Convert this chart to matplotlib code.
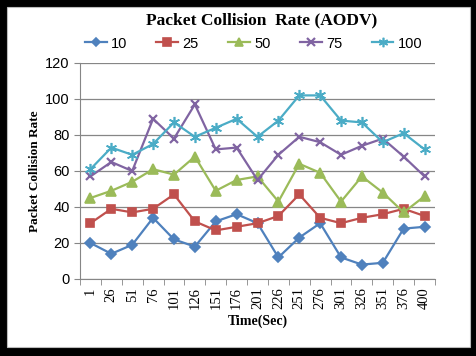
import matplotlib
matplotlib.use("Agg")
import matplotlib.pyplot as plt
from matplotlib.patches import Rectangle
import numpy as np

# time labels (seconds)
times = ["1", "26", "51", "76", "101", "126", "151", "176", "201",
         "226", "251", "276", "301", "326", "351", "376", "400"]

# packet collision rate per node count
rate_10 = [20, 14, 19, 34, 22, 18, 32, 36, 31, 12, 23, 31, 12, 8, 9, 28, 29]
rate_25 = [31, 39, 37, 39, 47, 32, 27, 29, 31, 35, 47, 34, 31, 34, 36, 39, 35]
rate_50 = [45, 49, 54, 61, 58, 68, 49, 55, 57, 43, 64, 59, 43, 57, 48, 37, 46]
rate_75 = [57, 65, 60, 89, 78, 97, 72, 73, 55, 69, 79, 76, 69, 74, 78, 68, 57]
rate_100 = [61, 73, 69, 75, 87, 79, 84, 89, 79, 88, 102, 102, 88, 87, 76, 81, 72]

series = [
    ("10", rate_10, "#4F81BD", "D", 5),
    ("25", rate_25, "#C0504D", "s", 6),
    ("50", rate_50, "#9BBB59", "^", 6.5),
    ("75", rate_75, "#8064A2", "x", 6),
    ("100", rate_100, "#4BACC6", (6, 2, 0), 8),
]

fig = plt.figure(figsize=(4.77, 3.56), dpi=100, facecolor="black")
# white inner panel inside the black frame
panel = Rectangle((7 / 477, 9 / 356), 463 / 477, 340 / 356,
                  transform=fig.transFigure, facecolor="white",
                  edgecolor="#bbbbbb", lw=0.8, zorder=-10)
fig.patches.append(panel)

ax = fig.add_axes([80 / 477, 77 / 356, 355 / 477, 216 / 356])
ax.set_zorder(5)
ax.set_facecolor("white")

x = np.arange(len(times))
for name, vals, col, mk, ms in series:
    ax.plot(x, vals, color=col, marker=mk, markersize=ms, lw=1.6,
            markeredgewidth=1.6 if mk == "x" else 1.2, label=name,
            clip_on=False, zorder=3)

ax.set_xlim(-0.5, len(times) - 0.5)
ax.set_ylim(0, 120)
ax.set_yticks(range(0, 121, 20))
ax.set_xticks(x)
ax.set_xticklabels(times, rotation=90, fontsize=10.5, family="Liberation Serif")
ax.set_xticks(np.arange(-0.5, len(times), 1), minor=True)
ax.tick_params(axis="x", which="major", length=0, pad=6)
ax.tick_params(axis="x", which="minor", length=4, color="#868686")
ax.tick_params(axis="y", length=4, color="#868686", labelsize=10.5)
for lab in ax.get_yticklabels():
    lab.set_family("Liberation Sans")

ax.grid(axis="y", color="#868686", lw=0.9)
ax.set_axisbelow(True)
for side in ["top", "right"]:
    ax.spines[side].set_visible(False)
ax.spines["left"].set_color("#868686")
ax.spines["bottom"].set_color("#868686")

ax.set_xlabel("Time(Sec)", family="Liberation Serif", fontweight="bold",
              fontsize=10, labelpad=4)
ax.set_ylabel("Packet Collision Rate", family="Liberation Serif",
              fontweight="bold", fontsize=9.5, labelpad=3)

fig.text(262 / 477, 1 - 20 / 356, "Packet Collision  Rate (AODV)",
         ha="center", va="center", family="Liberation Serif",
         fontweight="bold", fontsize=12.5, zorder=6)

leg = ax.legend(loc="center", bbox_to_anchor=(0.489, 1.09), ncol=5,
                frameon=False, handlelength=1.5, markerscale=0.85,
                columnspacing=2.0, handletextpad=0.3,
                prop={"family": "Liberation Sans", "size": 10.5})

fig.savefig("out.png", dpi=100, facecolor="black")
